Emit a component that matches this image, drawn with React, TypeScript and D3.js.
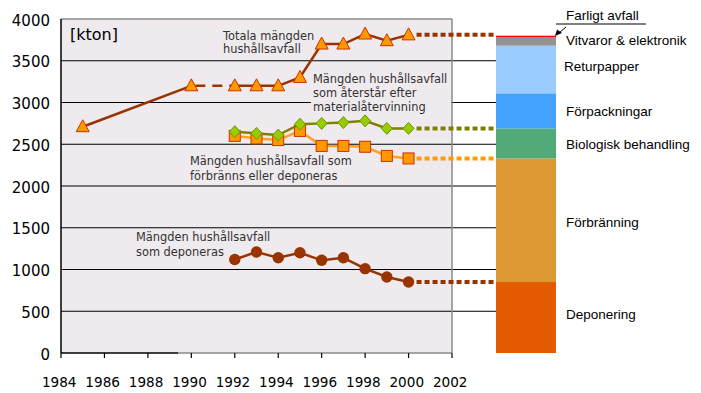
import React from "react";
import * as d3 from "d3";

const years = [1985, 1990, 1992, 1993, 1994, 1995, 1996, 1997, 1998, 1999, 2000];
const totalValues = [2710, 3200, 3200, 3200, 3200, 3300, 3700, 3700, 3820, 3740, 3810];

const laterYears = [1992, 1993, 1994, 1995, 1996, 1997, 1998, 1999, 2000];
const afterRecyclingValues = [2650, 2630, 2610, 2740, 2750, 2760, 2780, 2690, 2690];
const incineratedOrLandfilledValues = [2600, 2570, 2550, 2660, 2480, 2480, 2470, 2360, 2330];
const landfilledValues = [1120, 1210, 1140, 1200, 1110, 1140, 1010, 910, 850];

const stackLabels = [
  "Deponering",
  "Förbränning",
  "Biologisk behandling",
  "Förpackningar",
  "Returpapper",
  "Vitvaror & elektronik",
  "Farligt avfall",
];
const stackValues = [850, 1480, 360, 420, 570, 100, 20];
const stackColors = ["#E45A00", "#DD9933", "#52AA78", "#44A2FF", "#9ACCFF", "#939393", "#FF0000"];

const yTicks = [0, 500, 1000, 1500, 2000, 2500, 3000, 3500, 4000];
const xTicks = [1984, 1986, 1988, 1990, 1992, 1994, 1996, 1998, 2000, 2002];

const PLOT_BG = "#EEEAEE";
const ANN = "#333333";

export default function App() {
  const x = d3.scaleLinear().domain([1984, 2002]).range([61, 452]);
  const y = d3.scaleLinear().domain([0, 4000]).range([353, 19]);
  const barX0 = 496;
  const barX1 = 556;

  const line = d3
    .line<[number, number]>()
    .x((d) => x(d[0]))
    .y((d) => y(d[1]));

  const totalPts: [number, number][] = years.map((yr, i) => [yr, totalValues[i]]);
  const recPts: [number, number][] = laterYears.map((yr, i) => [yr, afterRecyclingValues[i]]);
  const incPts: [number, number][] = laterYears.map((yr, i) => [yr, incineratedOrLandfilledValues[i]]);
  const depPts: [number, number][] = laterYears.map((yr, i) => [yr, landfilledValues[i]]);

  const stackCum: { label: string; y0: number; y1: number; color: string }[] = [];
  let acc = 0;
  stackValues.forEach((v, i) => {
    stackCum.push({ label: stackLabels[i], y0: acc, y1: acc + v, color: stackColors[i] });
    acc += v;
  });

  const ext = (v: number, color: string) => (
    <line
      x1={x(2000) + 8}
      x2={barX0}
      y1={y(v)}
      y2={y(v)}
      stroke={color}
      strokeWidth={4}
      strokeDasharray="5,3"
    />
  );

  const labelY: Record<string, number> = {
    "Vitvaror & elektronik": 45,
    Returpapper: 71,
    Förpackningar: 116,
    "Biologisk behandling": 149,
    Förbränning: 227,
    Deponering: 319,
  };

  return (
    <svg width={701} height={393} style={{ position: "absolute", left: 0, top: 0 }}>
      <rect x={0} y={0} width={701} height={393} fill="#fff" />
      {/* plot background */}
      <rect x={61} y={19} width={452 - 61} height={353 - 19} fill={PLOT_BG} />
      {/* gridlines */}
      {yTicks
        .filter((t) => t > 0 && t < 4000)
        .map((t) => (
          <line key={"g" + t} x1={61} x2={barX0} y1={y(t)} y2={y(t)} stroke="#000" strokeWidth={1} />
        ))}
      {/* label background for green label */}
      <rect x={311} y={70} width={140} height={45} fill={PLOT_BG} />
      {/* borders */}
      <line x1={61} x2={452} y1={19} y2={19} stroke="#8a8a8a" strokeWidth={1.5} />
      <line x1={452} x2={452} y1={19} y2={353} stroke="#8a8a8a" strokeWidth={1.5} />
      <line x1={178} x2={452} y1={353} y2={353} stroke="#8a8a8a" strokeWidth={1.5} />
      <line x1={61} x2={178} y1={353} y2={353} stroke="#000" strokeWidth={1.5} />
      <line x1={61} x2={61} y1={19} y2={353} stroke="#000" strokeWidth={1.5} />
      {xTicks.map((t) => (
        <line key={"xt" + t} x1={x(t)} x2={x(t)} y1={353} y2={358} stroke="#000" strokeWidth={1.2} />
      ))}
      {/* tick labels */}
      {yTicks.map((t) => (
        <text
          key={"yl" + t}
          x={50}
          y={y(t) + 6.5}
          textAnchor="end"
          fontFamily="DejaVu Sans"
          fontSize={15}
          fill="#000"
        >
          {t}
        </text>
      ))}
      {xTicks.map((t) => (
        <text
          key={"xl" + t}
          x={x(t) - 1.8}
          y={386.5}
          textAnchor="middle"
          fontFamily="DejaVu Sans"
          fontSize={13.6}
          fill="#000"
        >
          {t}
        </text>
      ))}
      <text x={70} y={40} fontFamily="DejaVu Sans" fontSize={16} fill="#000">
        [kton]
      </text>

      {/* stacked bar */}
      {stackCum.map((s) => (
        <rect
          key={s.label}
          x={barX0}
          width={barX1 - barX0}
          y={y(s.y1)}
          height={y(s.y0) - y(s.y1)}
          fill={s.color}
        />
      ))}

      {/* extensions */}
      {ext(totalValues[totalValues.length - 1], "#993300")}
      {ext(afterRecyclingValues[afterRecyclingValues.length - 1], "#808000")}
      {ext(incineratedOrLandfilledValues[incineratedOrLandfilledValues.length - 1], "#FF9900")}
      {ext(landfilledValues[landfilledValues.length - 1], "#993300")}

      {/* total series */}
      <path d={line(totalPts.slice(0, 2)) || ""} fill="none" stroke="#993300" strokeWidth={2.5} />
      <path
        d={line(totalPts.slice(1, 3)) || ""}
        fill="none"
        stroke="#993300"
        strokeWidth={2.5}
        strokeDasharray="10,7"
        strokeDashoffset={-4}
      />
      <path d={line(totalPts.slice(2)) || ""} fill="none" stroke="#993300" strokeWidth={2.5} />
      {totalPts.map((p, i) => (
        <path
          key={"tri" + i}
          transform={`translate(${x(p[0])},${y(p[1])})`}
          d="M0,-7L6.5,5L-6.5,5Z"
          fill="#FF9900"
          stroke="#CC3300"
          strokeWidth={1}
        />
      ))}

      {/* incinerated or landfilled */}
      <path d={line(incPts) || ""} fill="none" stroke="#FFA020" strokeWidth={2.5} />
      {incPts.map((p, i) => (
        <rect
          key={"sq" + i}
          x={x(p[0]) - 5.5}
          y={y(p[1]) - 5.5}
          width={11}
          height={11}
          fill="#FF9900"
          stroke="#CC3300"
          strokeWidth={1}
        />
      ))}

      {/* after recycling */}
      <path d={line(recPts) || ""} fill="none" stroke="#808000" strokeWidth={2.5} />
      {recPts.map((p, i) => (
        <path
          key={"dm" + i}
          transform={`translate(${x(p[0])},${y(p[1])})`}
          d="M0,-6L5.5,0L0,6L-5.5,0Z"
          fill="#99CC00"
          stroke="#669900"
          strokeWidth={1}
        />
      ))}

      {/* landfilled */}
      <path d={line(depPts) || ""} fill="none" stroke="#993300" strokeWidth={2.5} />
      {depPts.map((p, i) => (
        <circle key={"c" + i} cx={x(p[0])} cy={y(p[1])} r={5.7} fill="#993300" />
      ))}

      {/* annotations */}
      <g fontFamily="DejaVu Sans" fontSize={11.4} fill={ANN}>
        <text x={223} y={40}>Totala mängden</text>
        <text x={223} y={53}>hushållsavfall</text>
        <text x={313} y={83}>Mängden hushållsavfall</text>
        <text x={313} y={97}>som återstår efter</text>
        <text x={313} y={111}>materialåtervinning</text>
        <text x={190} y={165}>Mängden hushållsavfall som</text>
        <text x={190} y={180}>förbränns eller deponeras</text>
        <text x={136} y={241}>Mängden hushållsavfall</text>
        <text x={136} y={256}>som deponeras</text>
      </g>

      {/* stack labels */}
      <g fontFamily="Liberation Sans" fontSize={13.5} fill="#000">
        <text x={566} y={20}>Farligt avfall</text>
        {stackLabels
          .filter((l) => labelY[l] !== undefined)
          .map((l) => (
            <text key={"sl" + l} x={l === "Returpapper" ? 564 : 566} y={labelY[l]}>
              {l}
            </text>
          ))}
      </g>
      <line x1={556} x2={646} y1={24} y2={24} stroke="#000" strokeWidth={1} />
      <line x1={566} x2={559} y1={27} y2={33} stroke="#000" strokeWidth={1} />
      <path d="M555,36L557,29.5L562,33Z" fill="#000" />
    </svg>
  );
}
